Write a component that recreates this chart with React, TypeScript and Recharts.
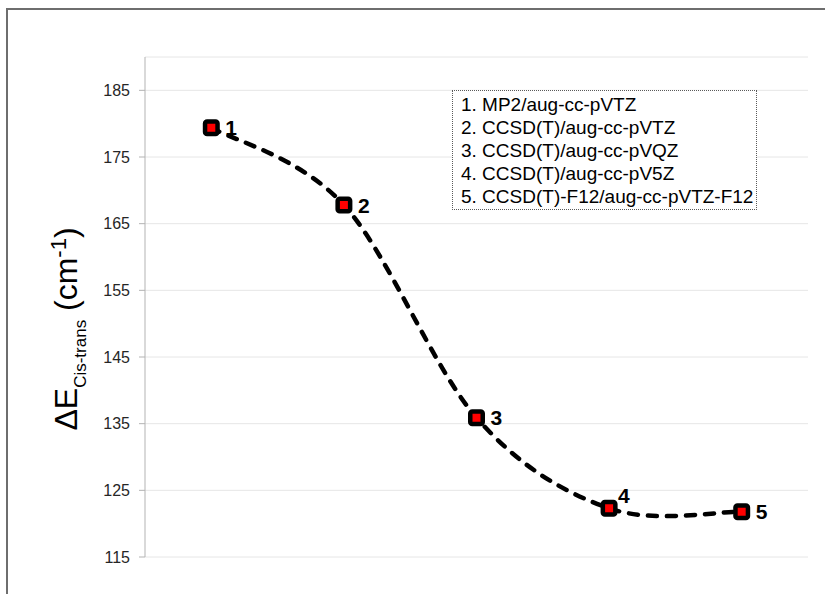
import React from 'react';
import { LineChart, Line, XAxis, YAxis, CartesianGrid, LabelList } from 'recharts';

const points = ['1', '2', '3', '4', '5'];
const energies = [179.4, 167.8, 135.9, 122.3, 121.8];
const yTicks = [115, 125, 135, 145, 155, 165, 175, 185];
const methods = [
  '1. MP2/aug-cc-pVTZ',
  '2. CCSD(T)/aug-cc-pVTZ',
  '3. CCSD(T)/aug-cc-pVQZ',
  '4. CCSD(T)/aug-cc-pV5Z',
  '5. CCSD(T)-F12/aug-cc-pVTZ-F12',
];

const data = points.map((p, i) => ({ id: p, value: energies[i] }));

const FONT = '"Liberation Sans", Arial, sans-serif';

// Excel-style smoothed line: bezier with control points at 1/6 of the neighbour span
function excelSmooth(context: any) {
  let pts: Array<[number, number]> = [];
  return {
    areaStart() {},
    areaEnd() {},
    lineStart() {
      pts = [];
    },
    point(x: number, y: number) {
      pts.push([+x, +y]);
    },
    lineEnd() {
      const n = pts.length;
      if (!n) return;
      context.moveTo(pts[0][0], pts[0][1]);
      for (let i = 0; i < n - 1; i++) {
        const p0 = pts[Math.max(i - 1, 0)];
        const p1 = pts[i];
        const p2 = pts[i + 1];
        const p3 = pts[Math.min(i + 2, n - 1)];
        context.bezierCurveTo(
          p1[0] + (p2[0] - p0[0]) / 6,
          p1[1] + (p2[1] - p0[1]) / 6,
          p2[0] - (p3[0] - p1[0]) / 6,
          p2[1] - (p3[1] - p1[1]) / 6,
          p2[0],
          p2[1]
        );
      }
    },
  };
}

function SquareDot(props: any) {
  const { cx, cy } = props;
  if (cx == null || cy == null) return null;
  return <rect x={cx - 6.25} y={cy - 6.25} width={12.5} height={12.5} rx={2} fill="#ff0000" stroke="#000" strokeWidth={4.5} />;
}

function PointLabel(props: any) {
  const { x, y, value, index } = props;
  const above = index === 3;
  return (
    <text
      x={x + (above ? 9 : 14)}
      y={y + (above ? -13 : 0)}
      dominantBaseline="central"
      fontFamily={FONT}
      fontWeight="bold"
      fontSize={21}
      fill="#000"
    >
      {value}
    </text>
  );
}

function AxisTitle() {
  const cx = 77;
  const cy = 329;
  return (
    <text
      x={cx}
      y={cy}
      transform={`rotate(-90, ${cx}, ${cy})`}
      textAnchor="middle"
      fontFamily={FONT}
      fill="#000"
      fontSize={32}
    >
      <tspan>ΔE</tspan>
      <tspan fontSize={17} dy={9}>Cis-trans</tspan>
      <tspan dy={-9}> (cm</tspan>
      <tspan fontSize={22} dy={-11}>-1</tspan>
      <tspan dy={11}>)</tspan>
    </text>
  );
}

export default function App() {
  return (
    <div style={{ position: 'absolute', left: 0, top: 0, width: 825, height: 594, background: '#fff', overflow: 'hidden' }}>
      <div
        style={{
          position: 'absolute',
          left: 6,
          top: 8,
          right: 0,
          bottom: 0,
          borderTop: '2px solid #6e6e6e',
          borderLeft: '2px solid #6e6e6e',
        }}
      />
      <LineChart width={825} height={594} data={data} margin={{ top: 57, right: 17, bottom: 37, left: 0 }}>
        <CartesianGrid vertical={false} stroke="#e6e6e6" />
        <XAxis dataKey="id" hide padding={{ left: 66.3, right: 66.3 }} />
        <YAxis
          width={145}
          domain={[115, 190]}
          ticks={yTicks}
          interval={0}
          allowDataOverflow
          axisLine={{ stroke: '#b3b3b3' }}
          tickLine={{ stroke: '#b3b3b3' }}
          tickSize={6}
          tickMargin={9}
          tick={{ fill: '#262626', fontSize: 16, fontFamily: FONT }}
          label={{ content: () => <AxisTitle /> }}
        />
        <Line
          type={excelSmooth as any}
          dataKey="value"
          stroke="#000"
          strokeWidth={4.5}
          strokeDasharray="9 10"
          strokeLinecap="round"
          dot={<SquareDot />}
          activeDot={false}
          isAnimationActive={false}
        >
          <LabelList dataKey="id" content={<PointLabel />} />
        </Line>
      </LineChart>
      <div
        style={{
          position: 'absolute',
          left: 452,
          top: 90,
          width: 305,
          height: 120,
          boxSizing: 'border-box',
          border: '1px dotted #5a5a5a',
          padding: '2px 0 0 8px',
          fontFamily: FONT,
          fontSize: 19,
          lineHeight: '23px',
          color: '#000',
          background: '#fff',
        }}
      >
        {methods.map((m) => (
          <div key={m} style={{ whiteSpace: 'nowrap' }}>{m}</div>
        ))}
      </div>
    </div>
  );
}
